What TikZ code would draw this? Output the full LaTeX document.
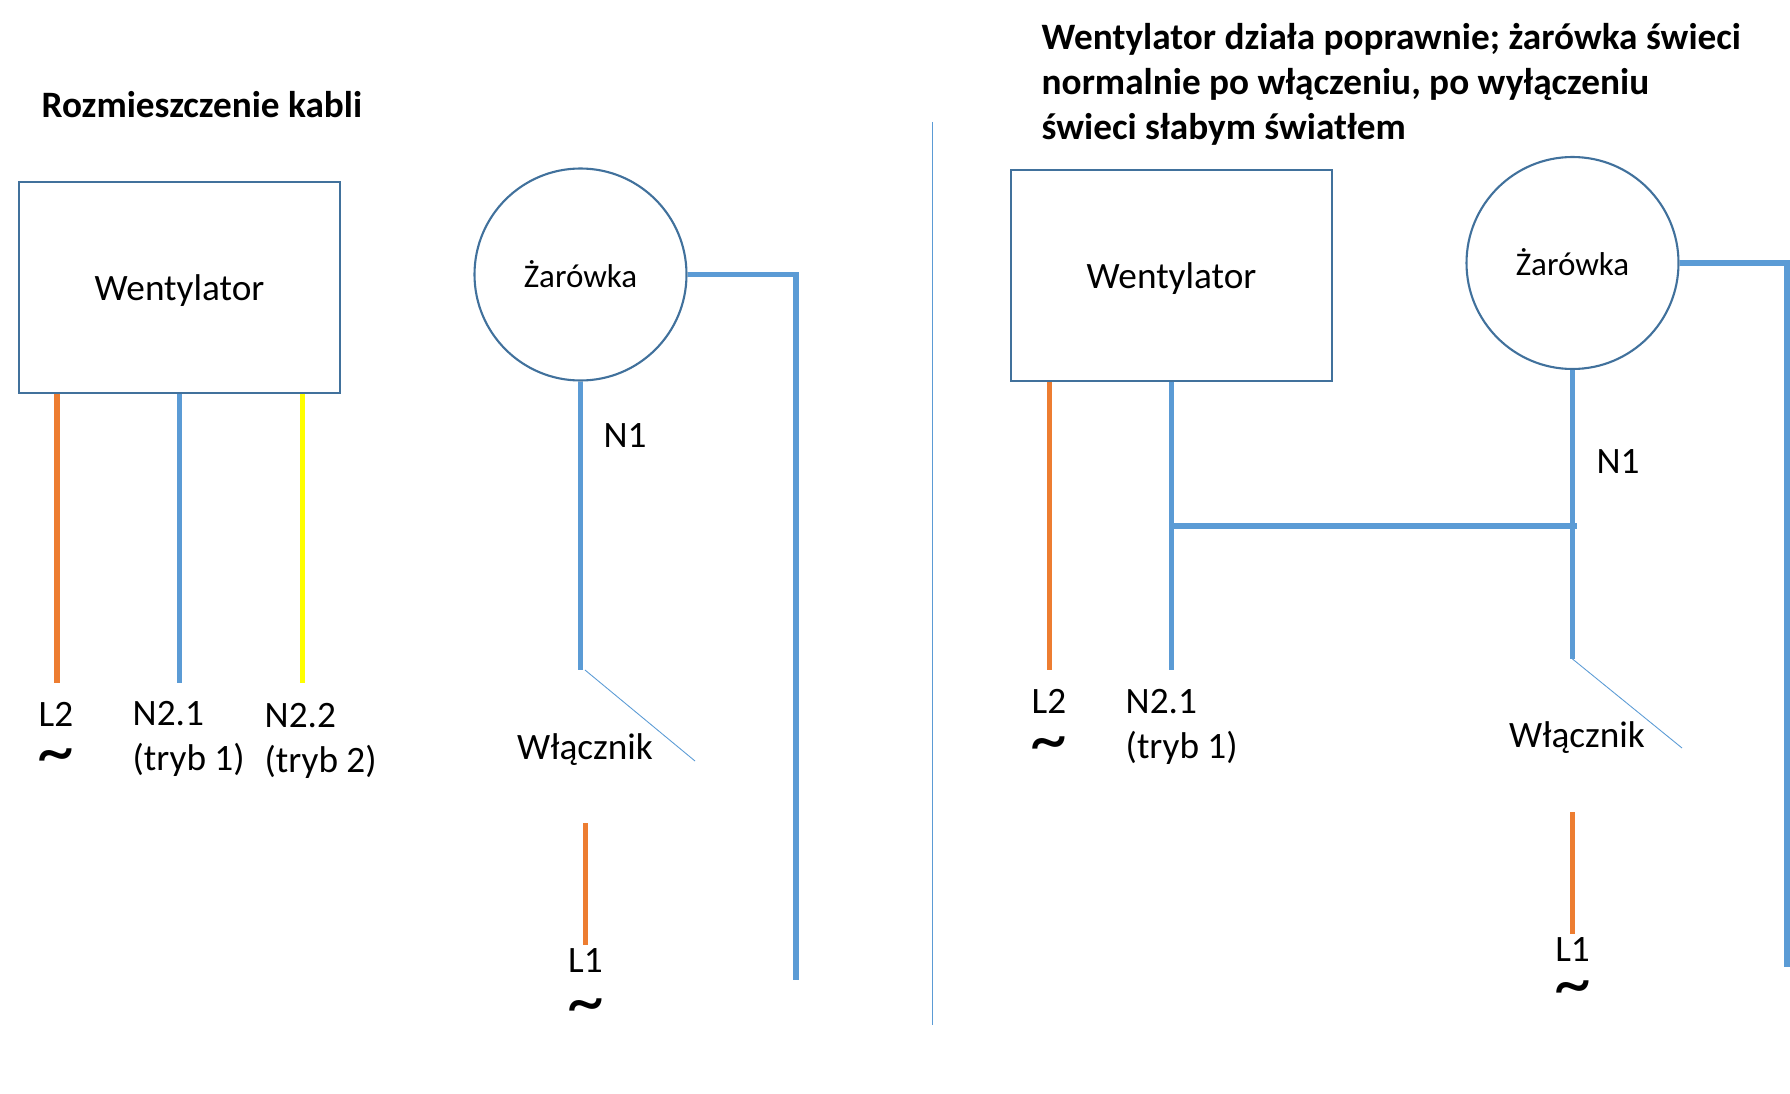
\documentclass[tikz,border=0pt]{standalone}
\usepackage{fontspec}
\setmainfont{Carlito}
\newcommand{\wavesign}{{\fontsize{21}{13}\selectfont\textasciitilde}}
\tikzset{
  unitbox/.style={draw=boxblue,line width=.6pt,minimum width=3.21cm,minimum height=2.105cm,inner sep=0pt},
  bulb/.style={draw=boxblue,line width=.6pt,circle,minimum size=2.12cm,inner sep=0pt},
  bluewire/.style={draw=wireblue,line width=1.6pt},
  orangewire/.style={draw=wireorange,line width=1.6pt},
  yellowwire/.style={draw=wireyellow,line width=1.6pt},
  thinline/.style={draw=wireblue,line width=.25pt},
  lbl/.style={inner sep=0pt,font=\fontsize{10.6}{13}\selectfont,align=left},
  smalllbl/.style={inner sep=0pt,font=\fontsize{9.4}{10}\selectfont},
  wavelbl/.style={inner sep=0pt,anchor=north,align=center,font=\fontsize{10.6}{13}\selectfont},
  heading/.style={inner sep=0pt,anchor=west,align=left,font=\fontsize{10.6}{12.8}\selectfont\bfseries}
}
\definecolor{boxblue}{HTML}{41719C}
\definecolor{wireblue}{HTML}{5B9BD5}
\definecolor{wireorange}{HTML}{ED7D31}
\definecolor{wireyellow}{HTML}{FFFF00}
\begin{document}
\begin{tikzpicture}
\useasboundingbox (0,0) rectangle (17.9,10.93);
% left part
\node[heading] (headA) at (.41,9.88) {Rozmieszczenie kabli};
\node[unitbox] (fanA) at (1.795,8.055) {};
\node[lbl] (fanAtext) at (1.795,8.02) {Wentylator};
\node[bulb] (bulbA) at (5.805,8.185) {};
\node[smalllbl] (bulbAtext) at (5.805,8.19) {Żarówka};
\coordinate (l2A) at (.57,4.10);
\coordinate (n21A) at (1.795,4.10);
\coordinate (n22A) at (3.025,4.10);
\coordinate (n1A) at (5.805,4.23);
\coordinate (swAa) at (5.85,4.23);
\coordinate (swAb) at (6.95,3.32);
\coordinate (l1Aa) at (5.855,2.70);
\coordinate (l1Ab) at (5.855,1.48);
\coordinate (retA) at (7.96,8.185);
\coordinate (retAend) at (7.96,1.13);
\draw[orangewire] (fanA.south -| l2A)--(l2A);
\draw[bluewire] (fanA.south)--(n21A);
\draw[yellowwire] (fanA.south -| n22A)--(n22A);
\draw[bluewire] (bulbA.south)--(n1A);
\draw[thinline] (swAa)--(swAb);
\draw[orangewire] (l1Aa)--(l1Ab);
\draw[bluewire] (bulbA.east)--(retA)--(retAend);
\node[wavelbl] (l2Atext) at (.56,3.91) {L2\\[.7pt]\wavesign};
\node[lbl,anchor=west] (n21Atext) at (1.32,3.54) {N2.1\\(tryb 1)};
\node[lbl,anchor=west] (n22Atext) at (2.64,3.52) {N2.2\\(tryb 2)};
\node[lbl] (n1Atext) at (6.25,6.57) {N1};
\node[lbl] (swAtext) at (5.85,3.43) {Włącznik};
\node[wavelbl] (l1Atext) at (5.855,1.45) {L1\\[2pt]\wavesign};
% divider
\coordinate (divtop) at (9.325,9.71);
\coordinate (divbot) at (9.325,.68);
\draw[thinline] (divtop)--(divbot);
% right part
\node[heading] (headB) at (10.41,10.09) {Wentylator działa poprawnie; żarówka świeci\\normalnie po włączeniu, po wyłączeniu\\świeci słabym światłem};
\node[unitbox] (fanB) at (11.715,8.175) {};
\node[lbl] (fanBtext) at (11.715,8.14) {Wentylator};
\node[bulb] (bulbB) at (15.725,8.30) {};
\node[smalllbl] (bulbBtext) at (15.725,8.31) {Żarówka};
\coordinate (l2B) at (10.495,4.23);
\coordinate (n21B) at (11.715,4.23);
\coordinate (n1B) at (15.725,4.34);
\coordinate (joinA) at (11.715,5.67);
\coordinate (joinB) at (15.77,5.67);
\coordinate (swBb) at (16.82,3.45);
\coordinate (l1Ba) at (15.725,2.81);
\coordinate (l1Bb) at (15.725,1.59);
\coordinate (retB) at (17.87,8.30);
\coordinate (retBend) at (17.87,1.26);
\draw[orangewire] (fanB.south -| l2B)--(l2B);
\draw[bluewire] (fanB.south)--(n21B);
\draw[bluewire] (bulbB.south)--(n1B);
\draw[bluewire] (joinA)--(joinB);
\draw[thinline] (n1B)--(swBb);
\draw[orangewire] (l1Ba)--(l1Bb);
\draw[bluewire] (bulbB.east)--(retB)--(retBend);
\node[wavelbl] (l2Btext) at (10.49,4.04) {L2\\[1pt]\wavesign};
\node[lbl,anchor=west] (n21Btext) at (11.25,3.66) {N2.1\\(tryb 1)};
\node[lbl] (n1Btext) at (16.18,6.31) {N1};
\node[lbl] (swBtext) at (15.77,3.55) {Włącznik};
\node[wavelbl] (l1Btext) at (15.725,1.56) {L1\\[0pt]\wavesign};
\end{tikzpicture}
\end{document}
